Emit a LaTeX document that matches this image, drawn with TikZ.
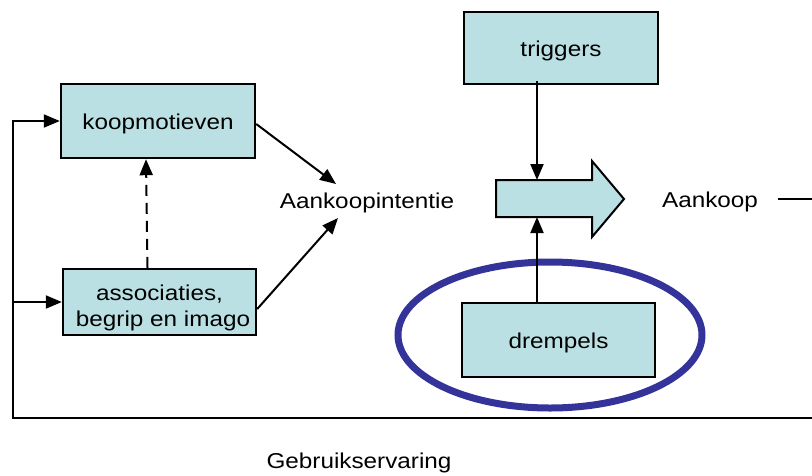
\documentclass[tikz,border=0pt]{standalone}
\usepackage{fontspec}
\setmainfont{Liberation Sans}[FakeStretch=1.13]
\usetikzlibrary{arrows.meta}
\definecolor{boxfill}{RGB}{187,224,227}
\definecolor{ringblue}{RGB}{51,51,153}
\tikzset{
  box/.style={draw=black, fill=boxfill, line width=2.4pt, rectangle, inner sep=0pt,
    text height=17pt, text depth=0pt},
  lbl/.style={inner sep=3pt},
  conn/.style={line width=2pt, draw=black},
  tip/.style={-{Triangle[length=16pt,width=13pt]}},
  ring/.style={draw=ringblue, line width=7pt}
}
\begin{document}
\begin{tikzpicture}[x=1pt, y=-1pt, font=\fontsize{21.5}{26}\selectfont]
\useasboundingbox (0,0) rectangle (812,475);
\clip (0,0) rectangle (812,475);

% boxes
\node[box, minimum width=194pt, minimum height=74pt] (km) at (158,121) {koopmotieven};
\node[box, minimum width=193pt, minimum height=66pt] (as) at (159.5,302) {};
\node[lbl, anchor=base] (asA) at (159.5,300) {associaties,};
\node[lbl, anchor=base] (asB) at (163,326) {begrip en imago};
\node[box, minimum width=194pt, minimum height=72pt] (tr) at (561,48) {triggers};

% ring round the thresholds
\draw[ring] (550,335) ellipse [x radius=152, y radius=73];
\node[box, minimum width=193pt, minimum height=74pt] (dr) at (558.5,340) {drempels};

% block arrow towards the purchase
\draw[conn, fill=boxfill] (496,180) -- (592,180) -- (592,161) -- (624,199)
  -- (592,237) -- (592,217) -- (496,217) -- cycle;
\coordinate (baTop) at (537,180);
\coordinate (baBot) at (537,217);

% free labels
\node[lbl, anchor=base] (ai) at (367,208) {Aankoopintentie};
\node[lbl, anchor=base] (ak) at (710,207) {Aankoop};
\node[lbl, anchor=base] (ge) at (359,468) {Gebruikservaring};

% inputs of the purchase intention
\coordinate (aiTop) at (336,184);
\coordinate (aiBot) at (338,218);
\draw[conn, tip] ([yshift=-3pt]km.east) -- (aiTop);
\draw[conn, tip] ([yshift=-7pt]as.east) -- (aiBot);
\draw[conn, tip, dash pattern=on 11pt off 7pt] ([xshift=-12pt]as.north) -- ([xshift=-12pt]km.south);

% triggers and thresholds acting on the purchase
\draw[conn, tip] ([xshift=-24pt, yshift=4pt]tr.south) -- (baTop);
\draw[conn, tip] ([xshift=-21.5pt]dr.north) -- (baBot);

% feedback loop of the user experience
\coordinate (fr) at (830,199);
\coordinate (fl) at (13,418);
\draw[conn, tip] ([xshift=17pt]ak.east |- 0,199) -- (fr) |- (fl) |- (km.west);
\draw[conn, tip] (fl |- as.west) -- (as.west);
\end{tikzpicture}
\end{document}
